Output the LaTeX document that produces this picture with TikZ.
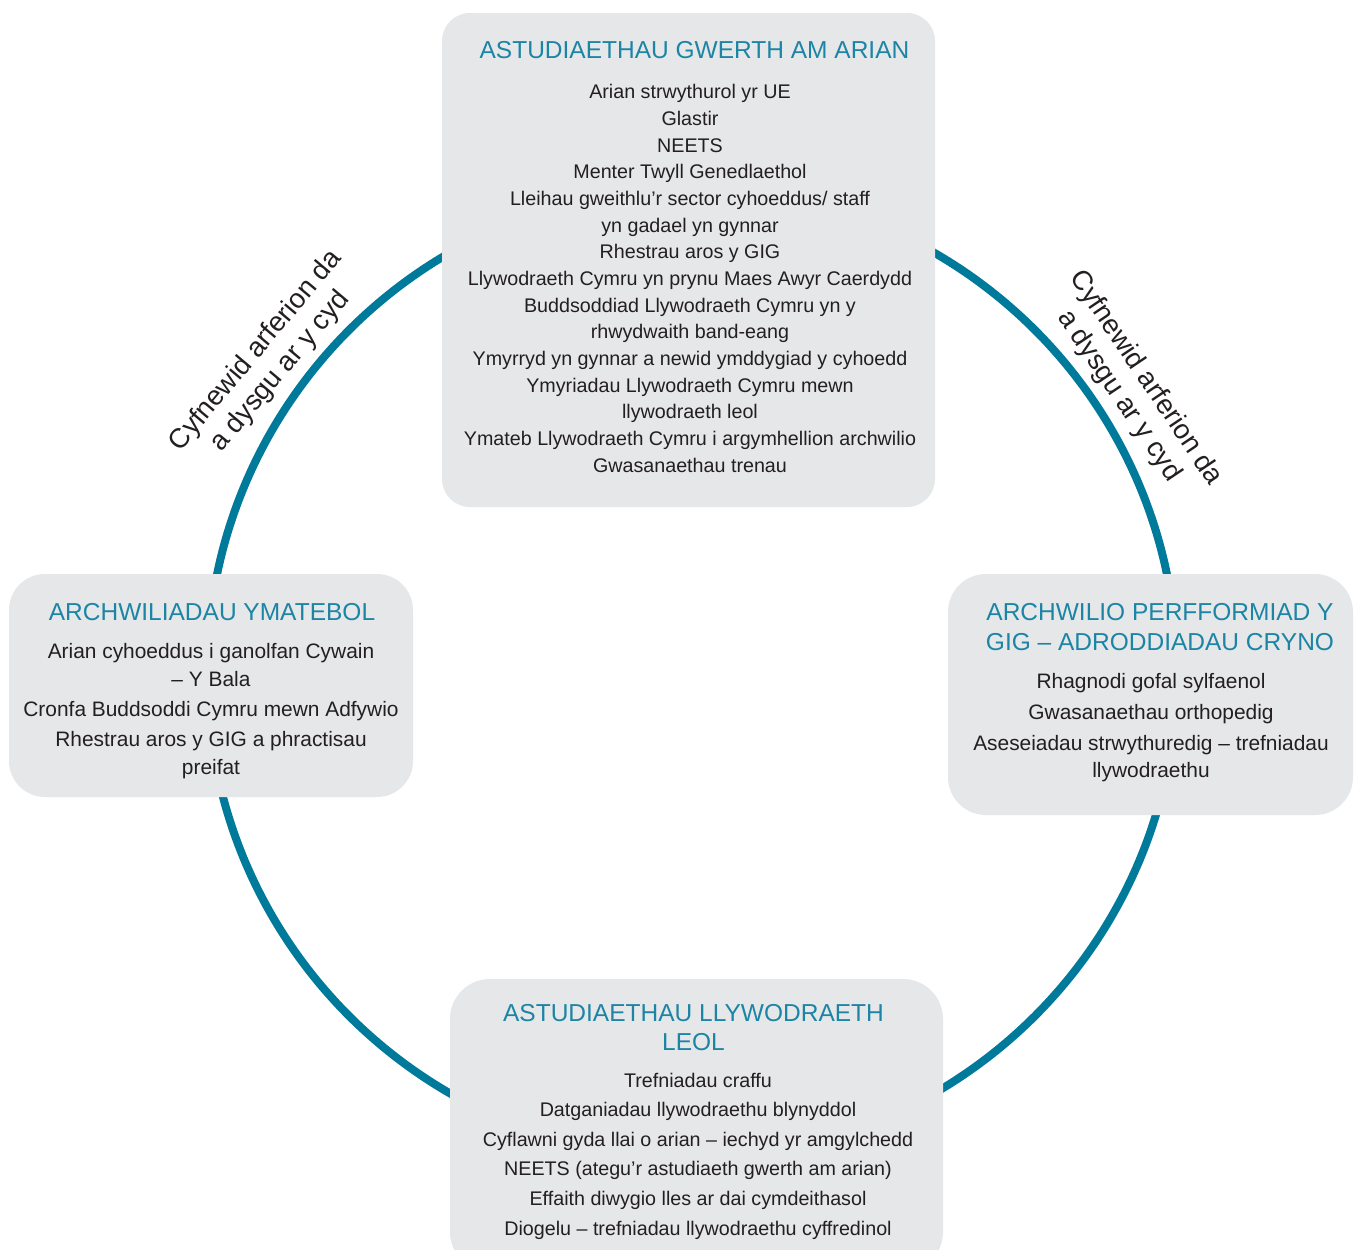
\documentclass[tikz,border=0pt]{standalone}
\usepackage{fontspec}
\setmainfont{Liberation Sans}
\definecolor{ringteal}{HTML}{007A9A}
\definecolor{titleteal}{HTML}{1C84A5}
\definecolor{boxgray}{HTML}{E6E7E8}
\definecolor{textdark}{HTML}{231F20}
\begin{document}
\begin{tikzpicture}[x=1pt,y=-1pt,
  ring/.style={draw=ringteal, line width=8pt},
  box/.style={fill=boxgray, draw=none, rounded corners=#1, inner sep=0pt, outer sep=0pt},
  ttl/.style={text=titleteal, anchor=base, align=center, inner sep=0pt, font=\fontsize{24.5}{30}\selectfont},
  bodytxt/.style={text=textdark, anchor=base, align=center, inner sep=0pt, font=\fontsize{19.7}{26.65}\selectfont},
  lbl/.style={text=textdark, anchor=base, align=center, inner sep=0pt, font=\fontsize{27.5}{32}\selectfont}
]
\useasboundingbox (0,0) rectangle (1355,1250);
\fill[white] (0,0) rectangle (1355,1250);
\clip (0,0) rectangle (1355,1250);

% ring
\coordinate (ctr) at (692,673);
\draw[ring] (ctr) circle[radius=485pt];

% boxes
\node[box=28pt, minimum width=493pt, minimum height=494pt] (vfm) at (688.5,260) {};
\node[box=36pt, minimum width=404pt, minimum height=223pt] (acc) at (211,685.5) {};
\node[box=38pt, minimum width=405pt, minimum height=241pt] (nhs) at (1150.5,694.5) {};
\node[box=40pt, minimum width=493pt, minimum height=293pt] (lg) at (696.5,1125.5) {};

% top box (anchor base = baseline of the last line)
\node[ttl] (vfmtitle) at (694.5,58.3) {ASTUDIAETHAU GWERTH AM ARIAN};
\node[bodytxt] (vfmbody) at (690,472) {Arian strwythurol yr UE\\
Glastir\\
NEETS\\
Menter Twyll Genedlaethol\\
Lleihau gweithlu’r sector cyhoeddus/ staff\\
yn gadael yn gynnar\\
Rhestrau aros y GIG\\
Llywodraeth Cymru yn prynu Maes Awyr Caerdydd\\
Buddsoddiad Llywodraeth Cymru yn y\\
rhwydwaith band-eang\\
Ymyrryd yn gynnar a newid ymddygiad y cyhoedd\\
Ymyriadau Llywodraeth Cymru mewn\\
llywodraeth leol\\
Ymateb Llywodraeth Cymru i argymhellion archwilio\\
Gwasanaethau trenau};

% left box
\node[ttl] (acctitle) at (212,620) {ARCHWILIADAU YMATEBOL};
\node[bodytxt, font=\fontsize{20.9}{28}\selectfont] (accbody) at (211,774) {Arian cyhoeddus i ganolfan Cywain\\
– Y Bala\\[2pt]
Cronfa Buddsoddi Cymru mewn Adfywio\\[2pt]
Rhestrau aros y GIG a phractisau\\
preifat};

% right box
\node[ttl] (nhstitle) at (1160,650) {ARCHWILIO PERFFORMIAD Y\\GIG – ADRODDIADAU CRYNO};
\node[bodytxt, font=\fontsize{20.9}{27}\selectfont] (nhsbody) at (1151,777) {Rhagnodi gofal sylfaenol\\[4pt]
Gwasanaethau orthopedig\\[4pt]
Aseseiadau strwythuredig – trefniadau\\
llywodraethu};

% bottom box
\node[ttl, font=\fontsize{24.5}{29}\selectfont] (lgtitle) at (693.5,1050) {ASTUDIAETHAU LLYWODRAETH\\LEOL};
\node[bodytxt, font=\fontsize{19.7}{29.6}\selectfont] (lgbody) at (698,1235) {Trefniadau craffu\\
Datganiadau llywodraethu blynyddol\\
Cyflawni gyda llai o arian – iechyd yr amgylchedd\\
NEETS (ategu’r astudiaeth gwerth am arian)\\
Effaith diwygio lles ar dai cymdeithasol\\
Diogelu – trefniadau llywodraethu cyffredinol};

% ring labels
\node[lbl, rotate=50] (lblleft) at (286,376) {Cyfnewid arferion da\\a dysgu ar y cyd};
\node[lbl, rotate=-56] (lblright) at (1113,400) {Cyfnewid arferion da\\a dysgu ar y cyd};
\end{tikzpicture}
\end{document}
